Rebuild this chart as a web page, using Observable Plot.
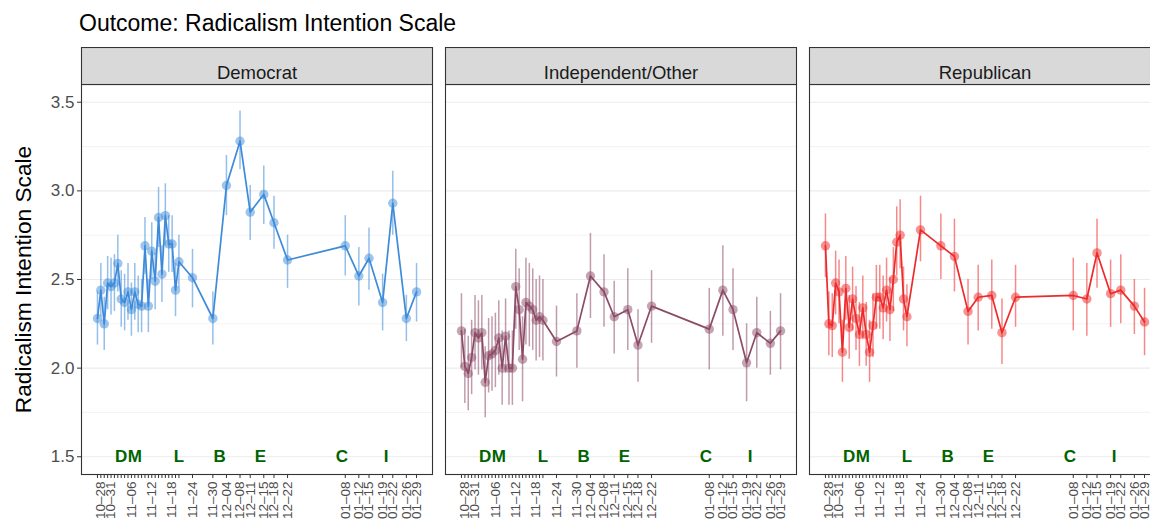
<!DOCTYPE html>
<html>
<head>
<meta charset="utf-8">
<script src="https://cdn.jsdelivr.net/npm/d3@7"></script>
<script src="https://cdn.jsdelivr.net/npm/@observablehq/plot@0.6"></script>
<style>
  html, body { margin: 0; padding: 0; background: #fff; overflow: hidden; width: 1150px; }
  #title {
    height: 47px; padding-left: 79px;
    font: 23px/47px "Liberation Sans", Arial, sans-serif; color: #000; white-space: nowrap;
  }
  #chart { width: 1150px; overflow: hidden; }
  #chart svg { display: block; max-width: none !important; }
</style>
</head>
<body>
<div id="title">Outcome: Radicalism Intention Scale</div>
<div id="chart"></div>
<script>
// Survey waves: daily through 20 Nov, then twice a week
const dates = [
  "2020-10-27","2020-10-28","2020-10-29","2020-10-30","2020-10-31","2020-11-01","2020-11-02",
  "2020-11-03","2020-11-04","2020-11-05","2020-11-06","2020-11-07","2020-11-08","2020-11-09",
  "2020-11-10","2020-11-11","2020-11-12","2020-11-13","2020-11-14","2020-11-15","2020-11-16",
  "2020-11-17","2020-11-18","2020-11-19","2020-11-20",
  "2020-11-24","2020-11-30","2020-12-04","2020-12-08","2020-12-11","2020-12-15","2020-12-18",
  "2020-12-22","2021-01-08","2021-01-12","2021-01-15","2021-01-19","2021-01-22","2021-01-26",
  "2021-01-29"
];

const parties = ["Democrat", "Independent/Other", "Republican"];
const partyColors = ["#3d8bd9", "#8c4b66", "#ee2a2a"];

// Mean scale score and 95% interval by wave
const demMean = [2.28,2.44,2.25,2.48,2.46,2.48,2.59,2.39,2.37,2.43,2.33,2.43,2.36,2.35,2.69,2.35,2.66,2.49,2.85,2.53,2.86,2.70,2.70,2.44,2.60,
                 2.51,2.28,3.03,3.28,2.88,2.98,2.82,2.61,2.69,2.52,2.62,2.37,2.93,2.28,2.43];
const demLow  = [2.13,2.29,2.10,2.33,2.30,2.32,2.43,2.23,2.21,2.27,2.18,2.27,2.20,2.20,2.53,2.20,2.50,2.33,2.68,2.37,2.69,2.54,2.54,2.29,2.45,
                 2.34,2.13,2.86,3.12,2.72,2.81,2.67,2.45,2.52,2.35,2.44,2.21,2.75,2.15,2.26];
const demHigh = [2.43,2.59,2.40,2.63,2.62,2.64,2.75,2.55,2.53,2.59,2.48,2.59,2.52,2.50,2.85,2.50,2.82,2.65,3.02,2.69,3.04,2.86,2.86,2.59,2.75,
                 2.67,2.43,3.20,3.45,3.03,3.14,2.97,2.75,2.86,2.68,2.79,2.53,3.11,2.41,2.59];

const indMean = [2.21,2.01,1.97,2.06,2.20,2.17,2.20,1.92,2.07,2.08,2.10,2.17,2.00,2.18,2.00,2.00,2.46,2.33,2.05,2.37,2.35,2.33,2.27,2.29,2.27,
                 2.15,2.21,2.52,2.43,2.29,2.33,2.13,2.35,2.22,2.44,2.33,2.03,2.20,2.14,2.21];
const indLow  = [2.00,1.80,1.76,1.85,1.99,1.96,1.99,1.72,1.86,1.87,1.89,1.96,1.79,1.97,1.79,1.79,2.22,2.10,1.81,2.13,2.12,2.10,2.04,2.06,2.04,
                 1.95,2.00,2.28,2.23,2.08,2.10,1.92,2.14,1.99,2.18,2.10,1.81,2.00,1.96,1.99];
const indHigh = [2.42,2.22,2.18,2.27,2.41,2.38,2.41,2.12,2.28,2.29,2.31,2.38,2.21,2.39,2.21,2.21,2.67,2.56,2.29,2.62,2.59,2.56,2.50,2.52,2.50,
                 2.35,2.42,2.76,2.64,2.49,2.56,2.33,2.55,2.45,2.69,2.56,2.25,2.40,2.32,2.42];

const repMean = [2.69,2.25,2.24,2.48,2.43,2.09,2.45,2.23,2.39,2.28,2.19,2.34,2.19,2.09,2.24,2.40,2.40,2.34,2.44,2.33,2.50,2.71,2.75,2.39,2.29,
                 2.78,2.69,2.63,2.32,2.40,2.41,2.20,2.40,2.41,2.39,2.65,2.42,2.44,2.35,2.26];
const repLow  = [2.51,2.07,2.06,2.30,2.25,1.92,2.27,2.05,2.21,2.10,2.01,2.16,2.01,1.92,2.06,2.22,2.22,2.16,2.26,2.15,2.32,2.52,2.56,2.21,2.12,
                 2.60,2.50,2.43,2.13,2.21,2.22,2.02,2.23,2.21,2.18,2.45,2.23,2.25,2.19,2.07];
const repHigh = [2.87,2.43,2.42,2.66,2.61,2.27,2.63,2.41,2.57,2.46,2.37,2.52,2.37,2.27,2.42,2.58,2.58,2.52,2.62,2.51,2.68,2.91,2.95,2.57,2.47,
                 2.97,2.87,2.84,2.50,2.58,2.61,2.39,2.58,2.62,2.59,2.84,2.61,2.64,2.50,2.45];

// Dates that get a printed tick label
const labeledDates = [
  "2020-10-28","2020-10-31","2020-11-06","2020-11-12","2020-11-18","2020-11-24","2020-11-30",
  "2020-12-04","2020-12-08","2020-12-11","2020-12-15","2020-12-18","2020-12-22","2021-01-08",
  "2021-01-12","2021-01-15","2021-01-19","2021-01-22","2021-01-26","2021-01-29"
];

// Key events marked along the bottom of each panel
const eventDates  = ["2020-11-03","2020-11-07","2020-11-20","2020-12-02","2020-12-14","2021-01-07","2021-01-20"];
const eventLabels = ["D","M","L","B","E","C","I"];
const eventLevel = 1.5;

const yMajor = [1.5, 2, 2.5, 3, 3.5];
const yMinor = [1.75, 2.25, 2.75, 3.25];
const yTitle = "Radicalism Intention Scale";

const parseDate = d3.utcParse("%Y-%m-%d");
const fmtMD = d3.utcFormat("%m–%d");

const series = {
  "Democrat": [demMean, demLow, demHigh],
  "Independent/Other": [indMean, indLow, indHigh],
  "Republican": [repMean, repLow, repHigh]
};

const rows = parties.flatMap(p => dates.map((d, i) => ({
  party: p,
  date: parseDate(d),
  mean: series[p][0][i],
  low: series[p][1][i],
  high: series[p][2][i]
})));

const events = eventDates.map((d, i) => ({date: parseDate(d), label: eventLabels[i]}));
const tickDates = dates.map(parseDate);
const labelSet = new Set(labeledDates.map(d => +parseDate(d)));

// 5% expansion on each side of the date range
const [d0, d1] = d3.extent(tickDates);
const pad = (d1 - d0) * 0.05;

const height = 473, marginTop = 37, marginBottom = 46;
const panelHeight = height - marginTop - marginBottom;
const stripHeight = 37;

const chart = Plot.plot({
  width: 1162,
  height,
  marginLeft: 80,
  marginRight: 0,
  marginTop,
  marginBottom,
  style: {fontFamily: "'Liberation Sans', Arial, sans-serif", background: "#fff"},
  fx: {domain: parties, paddingInner: 0.0356, paddingOuter: 0, axis: null, label: null},
  x: {type: "utc", domain: [new Date(+d0 - pad), new Date(+d1 + pad)]},
  y: {domain: [1.4, 3.6]},
  color: {domain: parties, range: partyColors},
  marks: [
    Plot.ruleY(yMinor, {stroke: "#ebebeb", strokeWidth: 0.6}),
    Plot.ruleY(yMajor, {stroke: "#ebebeb", strokeWidth: 1.2}),
    Plot.line(rows, {fx: "party", x: "date", y: "mean", stroke: "party", strokeWidth: 1.7}),
    Plot.dot(rows, {fx: "party", x: "date", y: "mean", r: 4.7, fill: "party", fillOpacity: 0.5}),
    Plot.ruleX(rows, {fx: "party", x: "date", y1: "low", y2: "high", stroke: "party", strokeOpacity: 0.55, strokeWidth: 1.5}),
    Plot.text(events, {x: "date", y: () => eventLevel, text: "label", fill: "#006400", fontWeight: "bold", fontSize: 17}),
    Plot.frame({stroke: "#333", strokeWidth: 1.1}),
    // facet strips
    Plot.frame({fill: "#d9d9d9", stroke: "#333", strokeWidth: 1.1, insetTop: -stripHeight, insetBottom: panelHeight}),
    Plot.text(parties, {fx: d => d, text: d => d, frameAnchor: "top", dy: -stripHeight / 2, fontSize: 18.5, fill: "#1a1a1a"}),
    Plot.axisY(yMajor, {tickFormat: d3.format(".1f"), fontSize: 17, tickSize: 4, tickPadding: 3, stroke: "#333", fill: "#4d4d4d", label: null}),
    Plot.text([yTitle], {fx: () => parties[0], text: d => d, frameAnchor: "left", textAnchor: "middle", rotate: -90, dx: -58, fontSize: 22.7, fill: "#000"}),
    Plot.axisX(tickDates, {
      tickFormat: d => labelSet.has(+d) ? fmtMD(d) : "",
      tickRotate: -90, tickSize: 4, tickPadding: 3, fontSize: 13.5,
      stroke: "#333", fill: "#4d4d4d", label: null
    })
  ]
});

// keep the drawing at its own pixel size; the last panel runs past the page edge
chart.style.maxWidth = "none";
chart.style.height = height + "px";
document.getElementById("chart").append(chart);
</script>
</body>
</html>
